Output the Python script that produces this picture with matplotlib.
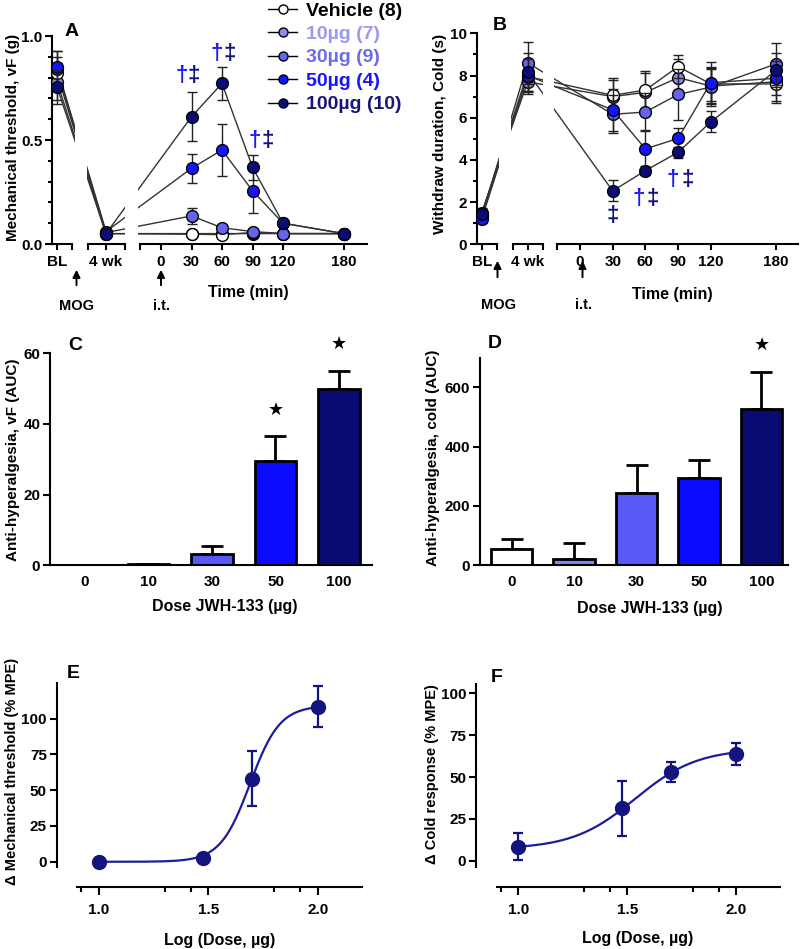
import numpy as np
import matplotlib
matplotlib.use('Agg')
import matplotlib.pyplot as plt
from matplotlib.lines import Line2D

plt.rcParams['font.family'] = ['Liberation Sans', 'DejaVu Sans']
plt.rcParams['font.weight'] = 'bold'
plt.rcParams['axes.labelweight'] = 'bold'
plt.rcParams['axes.linewidth'] = 1.5

# ---------------- data ----------------
groups = ['Vehicle (8)', '10µg (7)', '30µg (9)', '50µg (4)', '100µg (10)']
marker_fills = ['white', '#8c8cf0', '#6464ec', '#1414ff', '#0c0c78']
label_colors = ['black', '#9a9af0', '#6b6bea', '#1515ff', '#161678']
time_points = [30, 60, 90, 120, 180]

# Panel A: mechanical threshold (g) at [BL, 4 wk, 30, 60, 90, 120, 180 min]
mech_vehicle = [0.82, 0.05, 0.047, 0.045, 0.055, 0.05, 0.05]
mech_10 = [0.78, 0.05, 0.05, 0.05, 0.05, 0.05, 0.05]
mech_30 = [0.84, 0.055, 0.135, 0.078, 0.06, 0.05, 0.05]
mech_50 = [0.85, 0.06, 0.364, 0.452, 0.256, 0.10, 0.05]
mech_100 = [0.755, 0.05, 0.612, 0.772, 0.369, 0.10, 0.05]
mech_sem_vehicle = [0.08, 0.01, 0.01, 0.01, 0.01, 0.01, 0.01]
mech_sem_10 = [0.09, 0.01, 0.01, 0.01, 0.01, 0.01, 0.01]
mech_sem_30 = [0.09, 0.01, 0.04, 0.01, 0.01, 0.01, 0.01]
mech_sem_50 = [0.08, 0.01, 0.07, 0.125, 0.105, 0.01, 0.01]
mech_sem_100 = [0.08, 0.01, 0.117, 0.078, 0.06, 0.01, 0.01]

# Panel B: cold withdrawal duration (s)
cold_vehicle = [1.4, 7.95, 7.06, 7.31, 8.42, 7.6, 7.6]
cold_10 = [1.5, 7.7, 7.0, 7.2, 7.9, 7.5, 7.7]
cold_30 = [1.3, 8.6, 6.16, 6.27, 7.1, 7.45, 8.55]
cold_50 = [1.2, 8.0, 6.37, 4.52, 5.02, 7.66, 7.87]
cold_100 = [1.45, 8.15, 2.53, 3.49, 4.36, 5.8, 8.25]
cold_sem_vehicle = [0.2, 0.7, 0.8, 0.9, 0.55, 0.8, 0.9]
cold_sem_10 = [0.2, 0.6, 0.8, 0.9, 0.9, 0.8, 0.9]
cold_sem_30 = [0.2, 1.0, 0.9, 0.9, 1.2, 0.9, 1.0]
cold_sem_50 = [0.2, 0.8, 1.0, 0.9, 0.5, 1.0, 0.8]
cold_sem_100 = [0.2, 0.9, 0.5, 0.2, 0.25, 0.5, 0.8]

# Panels C, D: AUC
dose_labels = ['0', '10', '30', '50', '100']
bar_colors = ['white', '#8484f2', '#5858f6', '#0a0aff', '#0a0a73']
auc_vf = [0.1, 0.3, 3.2, 29.4, 49.9]
auc_vf_sem = [0.1, 0.2, 2.2, 7.2, 5.1]
auc_cold = [56, 22, 245, 293, 526]
auc_cold_sem = [32, 52, 92, 63, 126]

# Panels E, F: dose-response
log_dose = [1.0, 1.477, 1.699, 2.0]
mpe_mech = [0.0, 2.8, 58.1, 108.2]
mpe_mech_sem = [0.5, 1.0, 19.0, 14.3]
mpe_cold = [8.5, 31.3, 53.2, 63.8]
mpe_cold_sem = [8.0, 16.5, 6.0, 6.5]
# fitted sigmoid parameters (bottom, top, logEC50, hill)
fit_mech = (0.0, 109.0, 1.69, 6.4)
fit_cold = (7.0, 67.0, 1.535, 3.03)

# ---------------- layout helpers ----------------
W, H = 800, 949
fig = plt.figure(figsize=(W / 100, H / 100), dpi=100)
NAVY = '#14147e'
DAG = '#1a1aff'
DDAG = '#101080'
LETTER = 14


def px_axes(x0, y0, x1, y1):
    return fig.add_axes([x0 / W, 1 - y1 / H, (x1 - x0) / W, (y1 - y0) / H])


def ftext(x, y, s, **kw):
    kw.setdefault('ha', 'center')
    kw.setdefault('va', 'center')
    kw.setdefault('fontweight', 'bold')
    return fig.text(x / W, 1 - y / H, s, **kw)


def farrow(x, y_tip, y_tail):
    fig.add_artist(matplotlib.patches.FancyArrowPatch(
        (x / W, 1 - y_tail / H), (x / W, 1 - y_tip / H), transform=fig.transFigure,
        arrowstyle='-|>', mutation_scale=11, color='black', lw=1.4))


def style_ticks(ax):
    ax.tick_params(axis='both', direction='out', width=1.5, labelsize=11, pad=2)
    for lab in ax.get_xticklabels() + ax.get_yticklabels():
        lab.set_fontweight('bold')


def timecourse(lay, values, errors, ylim, ymajor, ymajor_labels, yminor, annots):
    org, k = lay['origin'], lay['k']
    conv = lambda p: (p - org) / k
    xpos = [conv(lay['bl']), conv(lay['wk'])] + time_points
    order = [1, 0, 2, 3, 4]
    axes = []
    for i, ((x0, x1), (b0, b1)) in enumerate(zip(lay['segs'], lay['bounds'])):
        ax = px_axes(x0, lay['top'], x1, lay['bottom'])
        ax.set_xlim(conv(x0), conv(x1))
        ax.set_ylim(*ylim)
        ax.patch.set_visible(False)
        ax.spines['top'].set_visible(False)
        ax.spines['right'].set_visible(False)
        ax.spines['bottom'].set_bounds(conv(b0), conv(b1))
        if i > 0:
            ax.spines['left'].set_visible(False)
            ax.set_yticks([])
        else:
            ax.set_yticks(ymajor)
            ax.set_yticklabels(ymajor_labels)
            ax.set_yticks(yminor, minor=True)
            ax.tick_params(axis='y', which='major', length=5)
            ax.tick_params(axis='y', which='minor', length=3, width=1.5)
        if i == 0:
            ax.set_xticks([xpos[0], conv(b1)])
            ax.set_xticklabels(['BL', ''])
        elif i == 1:
            ax.set_xticks([conv(b0), xpos[1], conv(b1)])
            ax.set_xticklabels(['', '4 wk', ''])
        else:
            ax.set_xticks([conv(b0), 0] + time_points)
            ax.set_xticklabels([''] + ['0'] + [str(t) for t in time_points])
        for g in order:
            ax.plot(xpos, values[g], color='#333333', lw=1, zorder=2)
        for z, g in enumerate(order):
            ax.errorbar(xpos, values[g], yerr=errors[g], fmt='o', ms=8.5,
                        mfc=marker_fills[g], mec='black', mew=1.0,
                        ecolor='#222222', elinewidth=1, capsize=3.5, capthick=1,
                        zorder=3 + z)
        style_ticks(ax)
        ax.tick_params(axis='x', length=4, pad=4)
        axes.append(ax)
    ax3 = axes[2]
    for (t, y, sym, col) in annots:
        ax3.text(t, y, sym, color=col, fontsize=16, fontweight='bold',
                 ha='center', va='center', clip_on=False)
    return axes


# ---------------- Panel A ----------------
layA = dict(top=36, bottom=244, origin=161, k=1.0167, bl=57, wk=106,
            segs=[(52, 75), (87, 125), (138, 367)],
            bounds=[(52, 72), (88, 125), (140, 367)])
annA = [(20, 0.81, '†', DAG), (32.5, 0.81, '‡', DDAG),
        (55, 0.917, '†', DAG), (67.5, 0.917, '‡', DDAG),
        (92.5, 0.50, '†', DAG), (105, 0.50, '‡', DDAG)]
timecourse(layA,
           [mech_vehicle, mech_10, mech_30, mech_50, mech_100],
           [mech_sem_vehicle, mech_sem_10, mech_sem_30, mech_sem_50, mech_sem_100],
           (0, 1.0), [0, 0.5, 1.0], ['0.0', '0.5', '1.0'],
           np.arange(0, 1.01, 0.1), annA)
ftext(13, 137, 'Mechanical threshold, vF (g)', rotation=90, fontsize=11)
ftext(72, 31, 'A', fontsize=LETTER)
ftext(248, 293, 'Time (min)', fontsize=11.5)
farrow(76.5, 267, 288)
farrow(161, 267, 288)
ftext(77, 306, 'MOG', fontsize=10.5)
ftext(161, 306, 'i.t.', fontsize=10.5)

# ---------------- Panel B ----------------
layB = dict(top=33.3, bottom=244.3, origin=580, k=1.09, bl=481.7, wk=527.7,
            segs=[(477, 499.5), (510.5, 542.7), (554, 798)],
            bounds=[(477, 496.7), (512.7, 542.7), (556.7, 798)])
annB = [(30.3, 1.35, '‡', DDAG),
        (54, 2.18, '†', DAG), (67, 2.18, '‡', DDAG),
        (85.3, 3.05, '†', DAG), (99, 3.05, '‡', DDAG)]
timecourse(layB,
           [cold_vehicle, cold_10, cold_30, cold_50, cold_100],
           [cold_sem_vehicle, cold_sem_10, cold_sem_30, cold_sem_50, cold_sem_100],
           (0, 10), [0, 2, 4, 6, 8, 10], ['0', '2', '4', '6', '8', '10'],
           np.arange(0, 10.5, 1), annB)
ftext(440, 134, 'Withdraw duration, Cold (s)', rotation=90, fontsize=11)
ftext(500, 26, 'B', fontsize=LETTER)
ftext(672, 295, 'Time (min)', fontsize=11.5)
farrow(497.5, 258, 280)
farrow(582.5, 258, 280)
ftext(499, 305, 'MOG', fontsize=10.5)
ftext(583, 305, 'i.t.', fontsize=10.5)

# legend
handles = [Line2D([0], [0], color='black', lw=1, marker='o', ms=6.5,
                  mfc=marker_fills[g], mec='black', mew=1.0) for g in range(5)]
leg = fig.legend(handles, groups, loc='upper left',
                 bbox_to_anchor=(268 / W, 1 - 2 / H), bbox_transform=fig.transFigure,
                 frameon=False, prop=dict(weight='bold', size=14),
                 labelcolor=label_colors, handlelength=1.5, handletextpad=0.45,
                 labelspacing=0.3, borderpad=0, borderaxespad=0)


# ---------------- Panels C, D ----------------
def bar_panel(box, vals, sems, ylim, yticks, xlim, stars):
    ax = px_axes(*box)
    idx = np.arange(len(dose_labels))
    ax.bar(idx, vals, width=0.66, color=bar_colors, edgecolor='black', linewidth=2, zorder=2)
    ax.errorbar(idx, vals, yerr=[np.zeros(len(vals)), sems], fmt='none',
                ecolor='black', elinewidth=2, capsize=8, capthick=2, zorder=1)
    ax.set_xlim(*xlim)
    ax.set_ylim(*ylim)
    ax.set_yticks(yticks)
    ax.set_xticks(idx)
    ax.set_xticklabels(dose_labels)
    ax.spines['top'].set_visible(False)
    ax.spines['right'].set_visible(False)
    ax.tick_params(axis='y', length=5)
    style_ticks(ax)
    ax.tick_params(axis='x', length=0, pad=7)
    for (i, y) in stars:
        ax.text(i, y, '★', fontsize=13, ha='center', va='center',
                family='DejaVu Sans', clip_on=False)
    return ax


bar_panel((50, 353.3, 371.7, 565.3), auc_vf, auc_vf_sem, (0, 60), [0, 20, 40, 60],
          (-0.551, 4.515), [(3, 44), (4, 62.6)])
ftext(13, 460, 'Anti-hyperalgesia, vF (AUC)', rotation=90, fontsize=11)
ftext(225, 607, 'Dose JWH-133 (µg)', fontsize=11.5)
ftext(75, 345, 'C', fontsize=LETTER)

bar_panel((480, 357.6, 788.3, 565.3), auc_cold, auc_cold_sem, (0, 700), [0, 200, 400, 600],
          (-0.507, 4.43), [(4, 743)])
ftext(433, 458, 'Anti-hyperalgesia, cold (AUC)', rotation=90, fontsize=11)
ftext(650, 608, 'Dose JWH-133 (µg)', fontsize=11.5)
ftext(495, 343, 'D', fontsize=LETTER)


# ---------------- Panels E, F ----------------
def dose_panel(box, xlim, ylim, ybounds, vals, sems, fit):
    ax = px_axes(*box)
    bottom, top, ec50, hill = fit
    xx = np.linspace(log_dose[0], log_dose[-1], 300)
    yy = bottom + (top - bottom) / (1 + 10 ** ((ec50 - xx) * hill))
    ax.plot(xx, yy, color='#1c1c9c', lw=1.6, zorder=2)
    ax.errorbar(log_dose, vals, yerr=sems, fmt='o', ms=10, mfc=NAVY, mec=NAVY,
                ecolor=NAVY, elinewidth=1.6, capsize=3.5, capthick=1.6, zorder=3)
    ax.set_xlim(*xlim)
    ax.set_ylim(*ylim)
    ax.spines['top'].set_visible(False)
    ax.spines['right'].set_visible(False)
    ax.spines['left'].set_bounds(*ybounds)
    ax.spines['bottom'].set_bounds(0.9, 2.2)
    ax.set_yticks([0, 25, 50, 75, 100])
    ax.set_xticks([1.0, 1.5, 2.0])
    ax.set_xticklabels(['1.0', '1.5', '2.0'])
    ax.set_xticks([0.92, 1.3, 1.42, 1.8, 1.92], minor=True)
    ax.tick_params(axis='y', length=5)
    ax.tick_params(axis='x', which='major', length=6)
    ax.tick_params(axis='x', which='minor', length=3.5, width=1.5)
    style_ticks(ax)
    ax.tick_params(axis='x', pad=6)
    return ax


dose_panel((56.7, 682.7, 361.7, 886.7), (0.807, 2.2), (-17.4, 125), (-3.5, 125),
           mpe_mech, mpe_mech_sem, fit_mech)
ftext(12, 771, 'Δ Mechanical threshold (% MPE)', rotation=90, fontsize=10.5)
ftext(220, 940, 'Log (Dose, µg)', fontsize=11.5)
ftext(73, 673, 'E', fontsize=LETTER)

dose_panel((476, 684, 780, 886.7), (0.805, 2.2), (-15.5, 105.6), (-3.6, 105.6),
           mpe_cold, mpe_cold_sem, fit_cold)
ftext(432, 774, 'Δ Cold response (% MPE)', rotation=90, fontsize=10.5)
ftext(638, 939, 'Log (Dose, µg)', fontsize=11.5)
ftext(497, 677, 'F', fontsize=LETTER)

fig.savefig('out.png', dpi=100)
